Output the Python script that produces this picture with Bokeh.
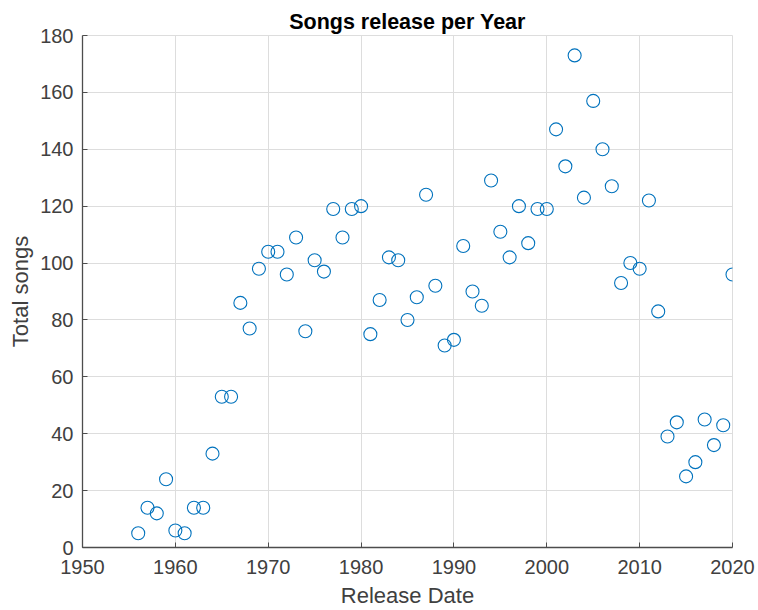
from bokeh.plotting import figure
from bokeh.models import ColumnDataSource, Range1d, FixedTicker
from bokeh.embed import file_html
from bokeh.resources import INLINE

# Number of songs released in each year
years = list(range(1956, 2021))
songs = [5, 14, 12, 24, 6, 5, 14, 14, 33, 53,
         53, 86, 77, 98, 104, 104, 96, 109, 76, 101,
         97, 119, 109, 119, 120, 75, 87, 102, 101, 80,
         88, 124, 92, 71, 73, 106, 90, 85, 129, 111,
         102, 120, 107, 119, 119, 147, 134, 173, 123, 157,
         140, 127, 93, 100, 98, 122, 83, 39, 44, 25,
         30, 45, 36, 43, 96]

x_ticks = [1950, 1960, 1970, 1980, 1990, 2000, 2010, 2020]
y_ticks = [0, 20, 40, 60, 80, 100, 120, 140, 160, 180]

source = ColumnDataSource(data=dict(year=years, total=songs))

FONT = "Liberation Sans"

p = figure(width=758, height=610, output_backend="svg", toolbar_location=None,
           x_range=Range1d(1950, 2020), y_range=Range1d(0, 180),
           title="Songs release per Year",
           min_border_left=82, min_border_right=26,
           min_border_top=35, min_border_bottom=62)

p.scatter("year", "total", source=source, marker="circle", size=13,
          fill_alpha=0, line_color="#0072BD", line_width=1.1)

p.title.align = "center"
p.title.text_font = FONT
p.title.text_font_size = "21.5px"
p.title.text_font_style = "bold"
p.title.text_color = "#000000"
p.title.offset = 0
p.title.standoff = 4

for ax in (p.xaxis[0], p.yaxis[0]):
    ax.axis_line_color = "#4d4d4d"
    ax.axis_line_width = 1.3
    ax.major_tick_line_color = "#4d4d4d"
    ax.major_tick_in = 5
    ax.major_tick_out = 0
    ax.minor_tick_line_color = None
    ax.major_label_text_font = FONT
    ax.major_label_text_font_size = "20px"
    ax.major_label_text_color = "#404040"
    ax.axis_label_text_font = FONT
    ax.axis_label_text_font_size = "22px"
    ax.axis_label_text_font_style = "normal"
    ax.axis_label_text_color = "#404040"

p.xaxis.ticker = FixedTicker(ticks=x_ticks)
p.yaxis.ticker = FixedTicker(ticks=y_ticks)
p.xaxis.axis_label = "Release Date"
p.yaxis.axis_label = "Total songs"
p.xaxis.major_label_standoff = 12
p.yaxis.major_label_standoff = 9
p.xaxis.axis_label_standoff = 6
p.yaxis.axis_label_standoff = 4

p.xgrid.grid_line_color = "#dddddd"
p.ygrid.grid_line_color = "#dddddd"
p.xgrid.grid_line_width = 1
p.ygrid.grid_line_width = 1

p.outline_line_color = "#dddddd"
p.outline_line_width = 1
p.background_fill_color = "white"
p.border_fill_color = "white"

open("out.html", "w").write(file_html(p, INLINE))
